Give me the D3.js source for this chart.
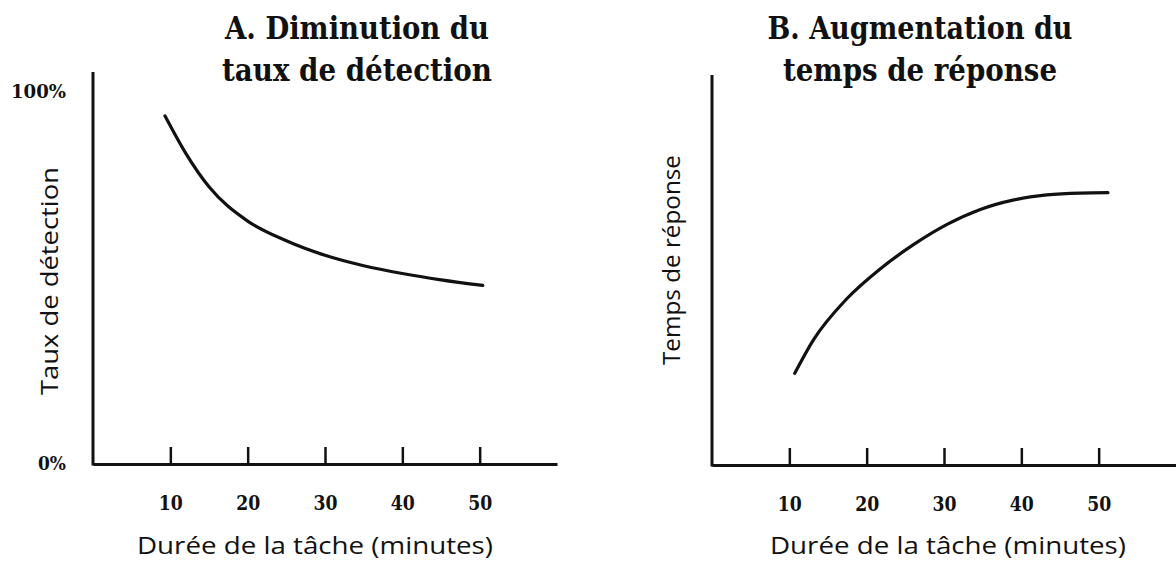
<!DOCTYPE html>
<html><head><meta charset="utf-8">
<script src="https://cdn.jsdelivr.net/npm/d3@7"></script>
<style>body{margin:0;background:#fff}svg{display:block}</style>
</head><body>
<svg id="c" width="1176" height="563"></svg>
<script>
// ---- data ----
const xTicks = [10, 20, 30, 40, 50];
const yTicksA = [0, 100];
const minutesA = [9.3, 12, 15, 20, 25, 30, 35, 40, 45, 50.4];
const detectionA = [93.6, 83.5, 74.5, 65.3, 60.0, 56.1, 53.3, 51.2, 49.5, 48.0];
const minutesB = [10.7, 13.1, 17.4, 21.7, 26.0, 30.4, 34.7, 38.9, 43.3, 47.6, 51.2];
const responseB = [24.6, 33.5, 44.5, 52.5, 59.0, 64.5, 68.5, 71.0, 72.4, 72.9, 73.0];
const titlesA = ["A. Diminution du", "taux de détection"];
const titlesB = ["B. Augmentation du", "temps de réponse"];
const yTitleA = "Taux de détection";
const yTitleB = "Temps de réponse";
const xTitle = "Durée de la tâche (minutes)";

const svg = d3.select("#c");
const ink = "#111";
const serif = "'DejaVu Serif Condensed','DejaVu Serif',serif";
const sans = "'Open Sans','Noto Sans',sans-serif";

function fitText(sel, w){
  const n = sel.node(); const L = n.getComputedTextLength();
  if (L > 0) sel.attr("textLength", w).attr("lengthAdjust", "spacingAndGlyphs");
}

function panel(o){
  const g = svg.append("g");
  const x = d3.scaleLinear().domain([0, 60]).range([o.x0, o.x0 + 464]);
  const y = d3.scaleLinear().domain([0, 100]).range([o.yb, 92]);
  // y axis line
  g.append("line").attr("x1", o.x0).attr("x2", o.x0).attr("y1", o.yb + 1.5).attr("y2", o.ytop)
    .attr("stroke", ink).attr("stroke-width", 3);
  // x axis
  const ax = g.append("g").attr("transform", `translate(0,${o.yb})`)
    .call(d3.axisBottom(x).tickValues(xTicks).tickSize(-17).tickSizeOuter(0).tickPadding(0));
  ax.select(".domain").attr("stroke", ink).attr("stroke-width", 3);
  ax.selectAll(".tick line").attr("stroke", ink).attr("stroke-width", 2.5);
  ax.selectAll(".tick text").attr("y", 46).attr("dy", null)
    .attr("font-family", serif).attr("font-weight", "bold").attr("font-size", 20).attr("fill", ink)
    .each(function(){ fitText(d3.select(this), 24); });
  // y ticks labels
  if (o.yTicks){
    const ay = g.append("g").attr("transform", `translate(${o.x0},0)`)
      .call(d3.axisLeft(y).tickValues(o.yTicks).tickSize(0).tickPadding(27).tickFormat(d => d + "%"));
    ay.select(".domain").remove();
    ay.selectAll(".tick text").attr("font-family", serif).attr("font-weight", "bold")
      .attr("font-size", 18).attr("fill", ink)
      .each(function(d){ fitText(d3.select(this), d === 100 ? 55 : 28); });
  }
  // curve
  const pts = o.xs.map((v, i) => [v, o.ys[i]]);
  g.append("path").datum(pts)
    .attr("d", d3.line().x(d => x(d[0])).y(d => y(d[1])).curve(d3.curveMonotoneX))
    .attr("fill", "none").attr("stroke", ink).attr("stroke-width", 3.2)
    .attr("stroke-linecap", "round");
  // titles
  o.titles.forEach((t, i) => {
    const tt = g.append("text").attr("x", o.tcx).attr("y", 39 + i * 42)
      .attr("text-anchor", "middle").attr("font-family", serif).attr("font-weight", "bold")
      .attr("font-size", 32).attr("fill", ink).text(t);
    fitText(tt, o.tw[i]);
  });
  // x title
  const xt = g.append("text").attr("x", o.xtc).attr("y", 554).attr("text-anchor", "middle")
    .attr("font-family", sans).attr("font-size", 23).attr("fill", ink).text(xTitle);
  fitText(xt, 356);
  // y title
  const yt = g.append("text").attr("transform", `translate(${o.ytx},${o.ytc}) rotate(-90)`)
    .attr("text-anchor", "middle").attr("font-family", sans).attr("font-size", 23).attr("fill", ink)
    .text(o.yTitle);
  fitText(yt, o.ytw);
}

panel({x0: 93, yb: 464, ytop: 72, yTicks: yTicksA, xs: minutesA, ys: detectionA,
  titles: titlesA, tcx: 357, tw: [264, 270], xtc: 315, yTitle: yTitleA, ytx: 58, ytc: 281, ytw: 228});
panel({x0: 712, yb: 465, ytop: 75, yTicks: null, xs: minutesB, ys: responseB,
  titles: titlesB, tcx: 920, tw: [305, 274], xtc: 948, yTitle: yTitleB, ytx: 680, ytc: 260, ytw: 210});
</script>
</body></html>
